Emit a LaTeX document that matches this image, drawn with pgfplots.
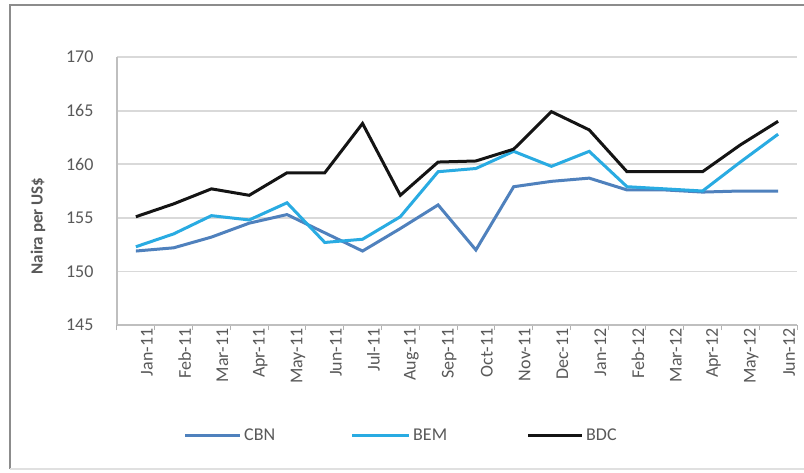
\documentclass[border=0pt]{standalone}
\usepackage{pgfplots}
\pgfplotsset{compat=1.18}
\usepackage{fontspec}
\setmainfont{Carlito}
\definecolor{cbn}{RGB}{79,129,189}
\definecolor{bem}{RGB}{41,171,226}
\definecolor{bdc}{RGB}{20,20,20}
\definecolor{tick}{RGB}{89,89,89}
\definecolor{grid}{RGB}{217,217,217}
\begin{document}
\begin{tikzpicture}[x=1pt,y=1pt]
\useasboundingbox (0,0) rectangle (804,472);
\fill[white] (0,0) rectangle (804,472);
\draw[color=black!45,line width=1.5pt] (10,3) -- (10,467) -- (810,467);
\draw[color=black!12,line width=1.5pt] (10,3) -- (810,3);
\begin{axis}[
  at={(117pt,147pt)}, anchor=south west,
  scale only axis, width=680pt, height=268pt,
  xmin=-0.5, xmax=17.5, ymin=145, ymax=170,
  ytick={145,150,...,170},
  xtick={0,...,17},
  xticklabels={Jan-11,Feb-11,Mar-11,Apr-11,May-11,Jun-11,Jul-11,Aug-11,Sep-11,Oct-11,Nov-11,Dec-11,Jan-12,Feb-12,Mar-12,Apr-12,May-12,Jun-12},
  minor xtick={-0.5,0.5,...,17.5},
  major tick length=0pt,
  minor tick length=5pt,
  tick align=outside,
  minor tick style={color=black!30,line width=1pt},
  ymajorgrids, grid style={color=grid,line width=1.8pt},
  axis x line*=bottom, axis y line*=left,
  axis line style={color=black!25,line width=1.8pt},
  every outer x axis line/.append style={-},
  every outer y axis line/.append style={-},
  tick label style={font=\fontsize{18}{20}\selectfont, color=tick},
  /pgf/number format/assume math mode=true,
  yticklabel style={xshift=-20pt},
  xticklabel style={rotate=90, anchor=east, yshift=-11pt},
  clip=false,
]
\addplot[color=cbn, line width=3pt] coordinates {
(0,151.9)(1,152.2)(2,153.2)(3,154.5)(4,155.3)(5,153.6)(6,151.9)(7,154.0)(8,156.2)(9,152.0)(10,157.9)(11,158.4)(12,158.7)(13,157.6)(14,157.6)(15,157.4)(16,157.5)(17,157.5)};
\addplot[color=bem, line width=3pt] coordinates {
(0,152.3)(1,153.5)(2,155.2)(3,154.8)(4,156.4)(5,152.7)(6,153.0)(7,155.1)(8,159.3)(9,159.6)(10,161.2)(11,159.8)(12,161.2)(13,157.9)(14,157.7)(15,157.5)(16,160.2)(17,162.8)};
\addplot[color=bdc, line width=3pt] coordinates {
(0,155.1)(1,156.3)(2,157.7)(3,157.1)(4,159.2)(5,159.2)(6,163.8)(7,157.1)(8,160.2)(9,160.3)(10,161.4)(11,164.9)(12,163.2)(13,159.3)(14,159.3)(15,159.3)(16,161.8)(17,164.0)};
\end{axis}
\node[rotate=90, font=\fontsize{17}{20}\selectfont\bfseries, color=tick] at (38,246) {Naira per US\$};
\draw[color=cbn, line width=3pt] (185,37) -- (240,37);
\node[anchor=west, inner sep=0pt, font=\fontsize{18}{20}\selectfont, color=tick] at (244,37) {CBN};
\draw[color=bem, line width=3pt] (352,37) -- (409,37);
\node[anchor=west, inner sep=0pt, font=\fontsize{18}{20}\selectfont, color=tick] at (413,37) {BEM};
\draw[color=bdc, line width=3pt] (528,37) -- (582,37);
\node[anchor=west, inner sep=0pt, font=\fontsize{18}{20}\selectfont, color=tick] at (586,37) {BDC};
\end{tikzpicture}
\end{document}
